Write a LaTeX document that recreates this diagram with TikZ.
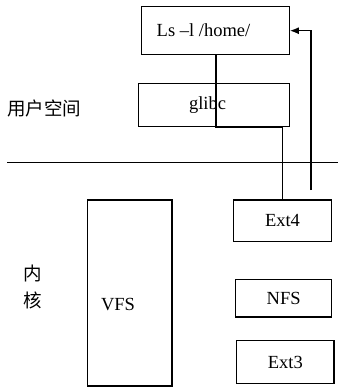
\documentclass[tikz,border=0pt]{standalone}
\usepackage{fontspec}
\setmainfont{Liberation Serif}
\newfontfamily\cjk{Noto Sans CJK SC}
\usetikzlibrary{arrows.meta}
\begin{document}
\begin{tikzpicture}[x=1pt,y=-1pt,
  box/.style={draw,line width=1.2pt,inner sep=0pt,font=\fontsize{18.5}{20}\selectfont},
  txt/.style={font=\fontsize{18.5}{20}\selectfont,inner sep=0pt},
  lnk/.style={line width=1.2pt},
  lbl/.style={font=\cjk\fontsize{18.5}{20}\selectfont,inner sep=0pt}]
\useasboundingbox (0,0) rectangle (338,389);
\node[box,minimum width=147.6pt,minimum height=47.6pt] (ls) at (215.5,30.5) {};
\node[txt] (lst) at (203.5,30.5) {Ls –l /home/};
\node[box,minimum width=151pt,minimum height=43.4pt] (glibc) at (213.8,105) {};
\node[txt] (glibct) at (207.5,105) {glibc};
\node[box,minimum width=84.3pt,minimum height=186pt] (vfs) at (129.8,293) {};
\node[txt] (vfst) at (118,305) {VFS};
\node[box,minimum width=98.4pt,minimum height=41.7pt] (ext4) at (282.5,220.8) {Ext4};
\node[box,minimum width=96pt,minimum height=37.7pt] (nfs) at (283.7,298.2) {NFS};
\node[box,minimum width=97.3pt,minimum height=42.6pt] (ext3) at (285.3,362) {Ext3};
\node[lbl] (user) at (44.5,108) {用户空间};
\node[lbl] (nei) at (32.7,273) {内};
\node[lbl] (he) at (32.7,300.7) {核};
\coordinate (hl) at (7,162.7);
\coordinate (hr) at (338,162.7);
\draw[lnk] (hl) -- (hr);
\draw[lnk] (216,54.3) -- (216,127.7) -- (282.7,127.7) -- (282.7,199.9);
\coordinate (up) at (311,190);
\draw[lnk,-{Latex[length=9pt,width=7pt]}] (up) -- (311,30.7) -- (ls.east |- 0,30.7);
\end{tikzpicture}
\end{document}
